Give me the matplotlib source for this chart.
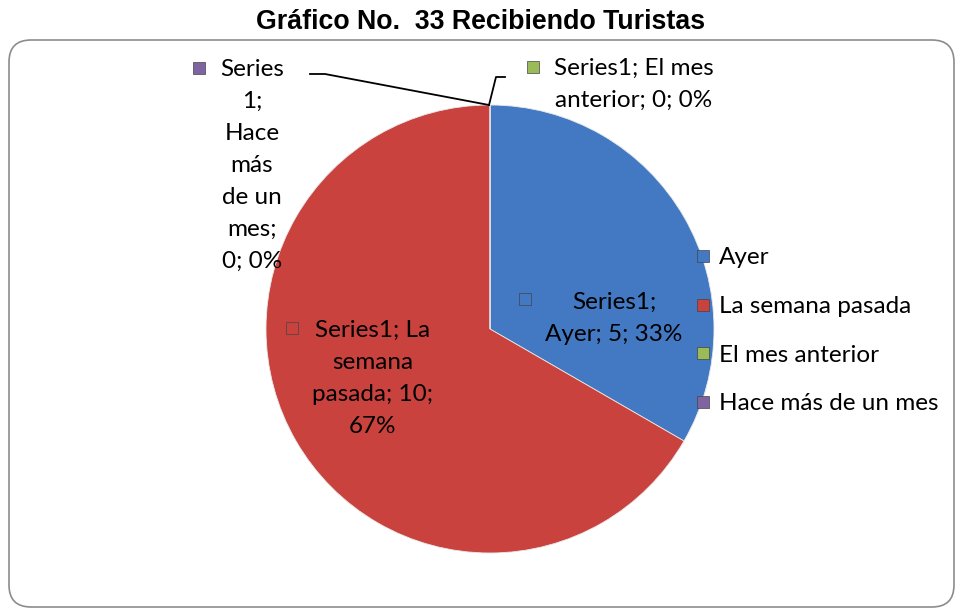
import matplotlib.pyplot as plt
from matplotlib.patches import FancyBboxPatch

# Datos
categorias = ['Ayer', 'La semana pasada', 'El mes anterior', 'Hace más de un mes']
valores = [5, 10, 0, 0]
porcentajes = ['33%', '67%', '0%', '0%']
colores = ['#4279c2', '#c9423e', '#9bbb59', '#8064a2']
serie = 'Series1'

plt.rcParams['font.family'] = ['Lato', 'DejaVu Sans']

W, H = 959, 611
fig = plt.figure(figsize=(W / 100, H / 100), dpi=100)
ax = fig.add_axes([0, 0, 1, 1])

def py(y):
    # pasar coordenada de pixel (desde arriba) a eje
    return H - y

# Marco redondeado
marco = FancyBboxPatch((9, py(607)), 945, 567, boxstyle='round,pad=0,rounding_size=22',
                       fc='white', ec='#8c8c8c', lw=1.2, zorder=0)
ax.add_patch(marco)

# Titulo
ax.text(481, py(22), 'Gráfico No.  33 Recibiendo Turistas', ha='center', va='center',
        fontsize=19.3, fontweight='bold', family=['Liberation Sans', 'DejaVu Sans'])

# Pastel
wedges, _ = ax.pie(valores, colors=colores, startangle=90, counterclock=False,
                   center=(490, py(329)), radius=224, frame=True,
                   wedgeprops=dict(edgecolor='#e8e8e8', linewidth=0.6))
for w in wedges:
    w.set_zorder(2)
ax.set_xlim(0, W)
ax.set_ylim(0, H)
ax.set_aspect('equal')
ax.axis('off')

fs = 17.5
ls = 1.65

def marcador(x, y, c):
    ax.scatter([x], [py(y)], marker='s', s=80, c=c, edgecolors='#444444',
               linewidths=0.5, zorder=5)

# Etiquetas de datos
marcador(199, 68, colores[3])
ax.text(252, py(59), f'Series\n1;\nHace\nmás\nde un\nmes;\n{valores[3]}; {porcentajes[3]}',
        ha='center', va='top', fontsize=fs, linespacing=ls, zorder=6)

marcador(533, 67, colores[2])
ax.text(634, py(58), f'{serie}; El mes\nanterior; {valores[2]}; {porcentajes[2]}',
        ha='center', va='top', fontsize=fs, linespacing=ls, zorder=6)

marcador(525, 299, colores[0])
ax.text(614, py(292), f'{serie};\n{categorias[0]}; {valores[0]}; {porcentajes[0]}',
        ha='center', va='top', fontsize=fs, linespacing=ls, zorder=6)

marcador(292, 328, colores[1])
ax.text(373, py(320), f'{serie}; La\nsemana\npasada; {valores[1]};\n{porcentajes[1]}',
        ha='center', va='top', fontsize=fs, linespacing=ls, zorder=6)

# Lineas guia
ax.plot([310, 325, 489], [py(74), py(74), py(105)], color='black', lw=1.3, zorder=4)
ax.plot([489, 496, 505], [py(105), py(77), py(77)], color='black', lw=1.3, zorder=4)

# Leyenda
for i, (cat, c) in enumerate(zip(categorias, colores)):
    y = 256 + i * 48.5
    marcador(703, y, c)
    ax.text(719, py(y + 2), cat, ha='left', va='center', fontsize=fs, zorder=6)

plt.savefig('out.png', dpi=100)
